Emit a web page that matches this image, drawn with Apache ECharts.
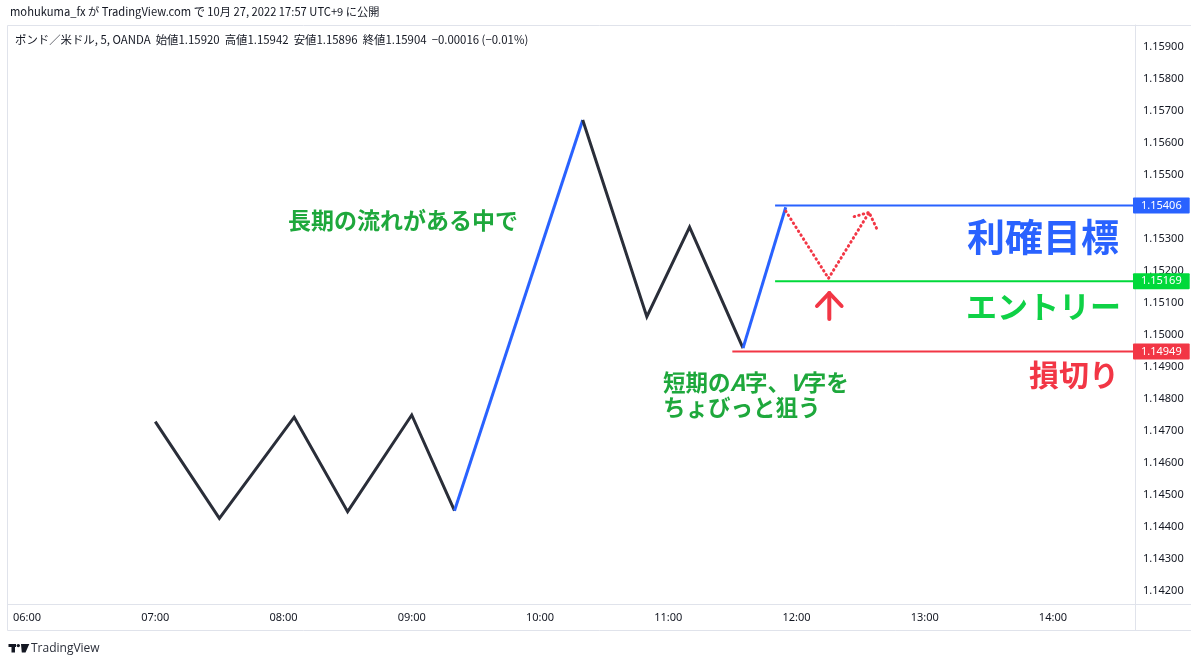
<!DOCTYPE html>
<html><head><meta charset="utf-8">
<script src="https://cdn.jsdelivr.net/npm/echarts@6/dist/echarts.min.js"></script>
<style>html,body{margin:0;padding:0;background:#fff}#c{width:1191px;height:657px}</style>
</head><body><div id="c"></div>
<script>
// ---- data ----
const swingTimes  = ['07:00','07:30','08:05','08:30','09:00','09:20','10:20','10:50','11:10','11:35','11:55'];
const swingPrices = [1.14730,1.14428,1.14744,1.14449,1.14751,1.14452,1.15673,1.15058,1.15338,1.14960,1.15400];
const segmentKinds = ['dark','dark','dark','dark','dark','up','dark','dark','dark','up'];
const planTimes  = ['11:55','12:15','12:34','12:38'];
const planPrices = [1.15388,1.15178,1.15384,1.15327];
const hookTimes  = ['12:27','12:34'];
const hookPrices = [1.15371,1.15384];
const levelNames  = ['利確目標','エントリー','損切り'];
const levelPrices = [1.15406,1.15169,1.14949];
const levelStarts = ['11:50','11:50','11:30'];
const xTickLabels = ['06:00','07:00','08:00','09:00','10:00','11:00','12:00','13:00','14:00'];
const yTickLabels = ['1.14200','1.14300','1.14400','1.14500','1.14600','1.14700','1.14800','1.14900','1.15000','1.15100','1.15200','1.15300','1.15400','1.15500','1.15600','1.15700','1.15800','1.15900'];

// ---- helpers ----
const toMin = s => { const [h,m] = s.split(':').map(Number); return h*60+m; };
const X_MIN = 351.1, X_MAX = 878.4;
const Y_MIN = 1.141603, Y_MAX = 1.159697;
const colors = { dark:'#2a2e39', up:'#2962ff' };
const levelColors = ['#2962ff','#00d93a','#f23645'];
const textFont = '"Noto Sans CJK JP", "Noto Sans", sans-serif';

const series = [];
let i = 0;
while (i < segmentKinds.length) {
  const kind = segmentKinds[i];
  let j = i;
  while (j + 1 < segmentKinds.length && segmentKinds[j+1] === kind) j++;
  const pts = [];
  for (let k = i; k <= j + 1; k++) pts.push([toMin(swingTimes[k]), swingPrices[k]]);
  series.push({
    type:'line', data: pts, symbol:'none', silent:true, z:5,
    lineStyle:{ color: colors[kind], width:3, join:'miter' }
  });
  i = j + 1;
}
levelPrices.forEach((p, idx) => {
  series.push({
    type:'line', symbol:'none', silent:true, z:4,
    data: [[toMin(levelStarts[idx]), p], [X_MAX, p]],
    lineStyle:{ color: levelColors[idx], width:2 },
    endLabel:{
      show:true, formatter: p.toFixed(5), distance:-2,
      color:'#fff', backgroundColor: levelColors[idx],
      fontSize:11, fontFamily:'"Noto Sans", sans-serif',
      padding:[3,8,2,8], borderRadius:1
    }
  });
});
const dotStyle = { color:'#f23645', width:3, type:[0.5,4.2], cap:'round' };
series.push({
  type:'line', symbol:'none', silent:true, z:6,
  data: planTimes.map((t,k)=>[toMin(t), planPrices[k]]),
  lineStyle: dotStyle
});
series.push({
  type:'line', symbol:'none', silent:true, z:6,
  data: hookTimes.map((t,k)=>[toMin(t), hookPrices[k]]),
  lineStyle: dotStyle
});

const chart = echarts.init(document.getElementById('c'), null, {renderer:'canvas'});
chart.setOption({
  animation:false,
  backgroundColor:'#ffffff',
  grid:{ left:8, right:56, top:25, bottom:53 },
  xAxis:{
    type:'value', min:X_MIN, max:X_MAX,
    axisLine:{ show:true, lineStyle:{ color:'#e0e3eb', width:1 } },
    axisTick:{ show:false },
    splitLine:{ show:false },
    axisLabel:{
      customValues: xTickLabels.map(toMin),
      formatter: v => { const h = Math.floor(v/60); return (h<10?'0':'')+h+':00'; },
      color:'#131722', fontSize:11, margin:8, fontFamily:'"Noto Sans", sans-serif'
    }
  },
  yAxis:{
    type:'value', position:'right', min:Y_MIN, max:Y_MAX, scale:true,
    axisLine:{ show:true, lineStyle:{ color:'#e0e3eb', width:1 } },
    axisTick:{ show:false },
    splitLine:{ show:false },
    axisLabel:{
      customValues: yTickLabels.map(Number),
      formatter: v => v.toFixed(5),
      color:'#131722', fontSize:11, margin:8, fontFamily:'"Noto Sans", sans-serif'
    }
  },
  graphic:[
    { type:'rect', shape:{ x:7.5, y:25.5, width:1190, height:605 }, style:{ fill:'none', stroke:'#e0e3eb', lineWidth:1 }, silent:true },
    { type:'line', shape:{ x1:1135.5, y1:25, x2:1135.5, y2:631 }, style:{ stroke:'#e0e3eb', lineWidth:1 }, silent:true },
    { type:'line', shape:{ x1:8, y1:604.5, x2:1191, y2:604.5 }, style:{ stroke:'#e0e3eb', lineWidth:1 }, silent:true },
    { type:'text', x:10, y:12, style:{ text:'mohukuma_fx が TradingView.com で 10月 27, 2022 17:57 UTC+9 に公開', fill:'#131722', font:'11.2px '+textFont, verticalAlign:'middle' } },
    { type:'text', x:15, y:40, style:{ text:'ポンド／米ドル, 5, OANDA  始値1.15920  高値1.15942  安値1.15896  終値1.15904  −0.00016 (−0.01%)', fill:'#131722', font:'11.4px '+textFont, verticalAlign:'middle' } },
    { type:'text', x:288, y:220, z:10, style:{ text:'長期の流れがある中で', fill:'#1ea83c', font:'bold 23px '+textFont, verticalAlign:'middle' } },
    { type:'text', x:1119, y:237, z:10, style:{ text:levelNames[0], fill:'#2962ff', font:'bold 38px '+textFont, align:'right', verticalAlign:'middle' } },
    { type:'text', x:1121, y:306, z:10, style:{ text:levelNames[1], fill:'#0fd146', font:'bold 31px '+textFont, align:'right', verticalAlign:'middle' } },
    { type:'text', x:1119, y:375, z:10, style:{ text:levelNames[2], fill:'#f23645', font:'bold 30px '+textFont, align:'right', verticalAlign:'middle' } },
    { type:'text', x:663, y:382, z:10, style:{
        text:'{n|短期の}{i|A}{n|字、}{i|V}{n|字を}', verticalAlign:'middle',
        rich:{ n:{ fill:'#1ea83c', font:'bold 22.5px '+textFont }, i:{ fill:'#1ea83c', font:'italic bold 22.5px '+textFont } } } },
    { type:'text', x:663, y:407, z:10, style:{ text:'ちょびっと狙う', fill:'#1ea83c', font:'bold 22.5px '+textFont, verticalAlign:'middle' } },
    { type:'polyline', z:10, shape:{ points:[[829.3,319],[829.3,293]] }, style:{ stroke:'#f23645', lineWidth:4, lineCap:'round', fill:null } },
    { type:'polyline', z:10, shape:{ points:[[817,306],[829.3,293],[841.6,306]] }, style:{ stroke:'#f23645', lineWidth:4, lineCap:'round', lineJoin:'round', fill:null } },
    { type:'rect', shape:{ x:8.5, y:644, width:7.5, height:3 }, style:{ fill:'#131722' } },
    { type:'rect', shape:{ x:11.5, y:644, width:3.5, height:8.5 }, style:{ fill:'#131722' } },
    { type:'circle', shape:{ cx:18.3, cy:645.6, r:1.7 }, style:{ fill:'#131722' } },
    { type:'polygon', shape:{ points:[[21,644],[29.3,644],[25.5,652.5],[21.8,652.5]] }, style:{ fill:'#131722' } },
    { type:'text', x:31, y:648.5, style:{ text:'TradingView', fill:'#2a2e39', font:'12px "Open Sans", "Noto Sans", sans-serif', verticalAlign:'middle' } }
  ],
  series: series
});
</script></body></html>
